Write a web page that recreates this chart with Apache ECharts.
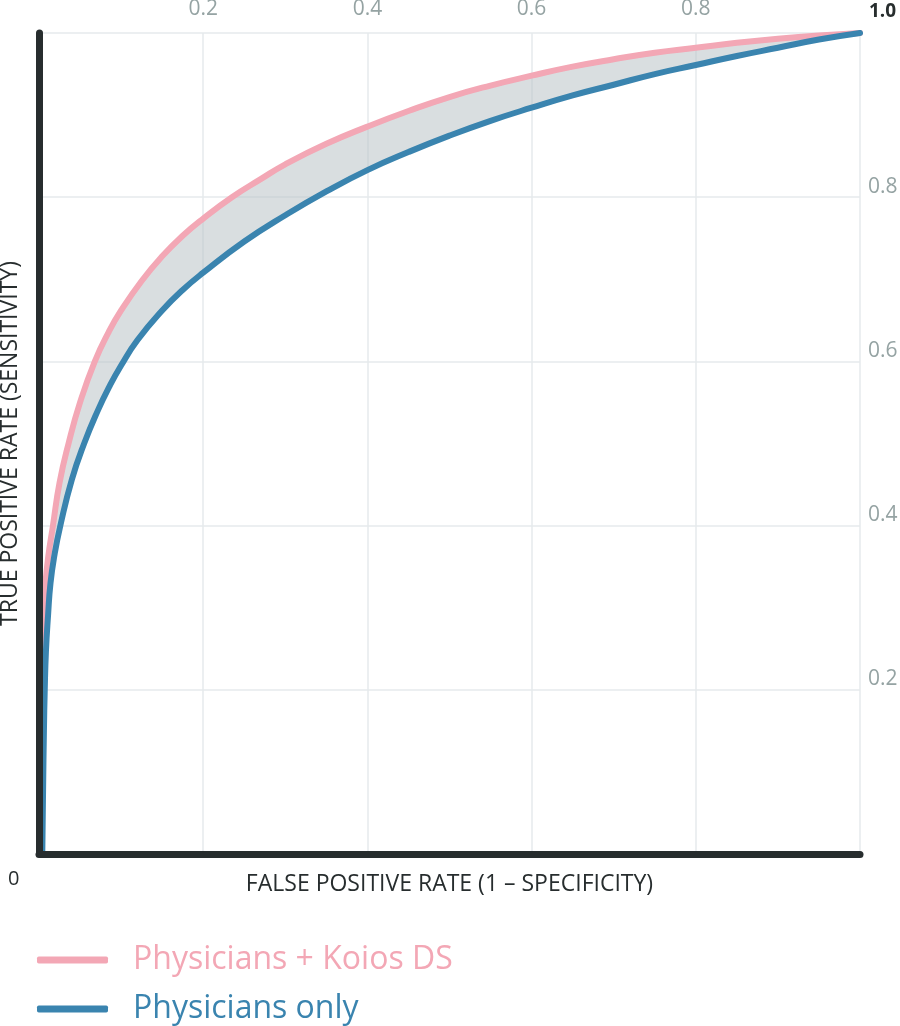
<!DOCTYPE html>
<html>
<head>
<meta charset="utf-8">
<title>ROC curve</title>
<script src="https://cdn.jsdelivr.net/npm/echarts@6/dist/echarts.min.js"></script>
<style>
  html, body { margin: 0; padding: 0; background: #fff; }
  #chart { width: 900px; height: 1026px; }
</style>
</head>
<body>
<div id="chart"></div>
<script>
// 数据：横轴 FPR，纵轴 TPR
const koiosFpr = [0, 0.002, 0.004, 0.007, 0.011, 0.017, 0.025, 0.036, 0.05, 0.068, 0.085, 0.1, 0.125, 0.15, 0.175, 0.2, 0.235, 0.27, 0.3, 0.35, 0.4, 0.45, 0.5, 0.55, 0.6, 0.65, 0.7, 0.75, 0.8, 0.85, 0.9, 0.95, 1]
const koiosTpr = [0, 0.22, 0.28, 0.32, 0.36, 0.40, 0.452, 0.50, 0.55, 0.60, 0.636, 0.662, 0.698, 0.728, 0.753, 0.774, 0.80, 0.822, 0.84, 0.865, 0.886, 0.905, 0.922, 0.936, 0.948, 0.959, 0.968, 0.976, 0.982, 0.988, 0.993, 0.997, 1]

const physFpr = [0.004, 0.005, 0.006, 0.007, 0.0085, 0.011, 0.014, 0.019, 0.026, 0.04, 0.055, 0.072, 0.085, 0.1, 0.12, 0.15, 0.175, 0.2, 0.25, 0.3, 0.35, 0.4, 0.45, 0.5, 0.55, 0.6, 0.65, 0.7, 0.75, 0.8, 0.85, 0.9, 0.95, 1]
const physTpr = [0, 0.08, 0.15, 0.2, 0.248, 0.29, 0.33, 0.365, 0.40, 0.456, 0.50, 0.541, 0.568, 0.595, 0.626, 0.662, 0.687, 0.708, 0.746, 0.778, 0.807, 0.833, 0.855, 0.875, 0.893, 0.909, 0.924, 0.937, 0.95, 0.961, 0.972, 0.982, 0.992, 1]

const tickValues = [0.2, 0.4, 0.6, 0.8]
const seriesNames = ['Physicians + Koios DS', 'Physicians only']

const pink = '#f3a7b5'
const blue = '#3a84af'
const dark = '#272d2e'
const tickGray = '#95a3a3'
const font = 'Open Sans'

const koiosData = koiosFpr.map((x, i) => [x, koiosTpr[i]])
const physData = physFpr.map((x, i) => [x, physTpr[i]])

const chart = echarts.init(document.getElementById('chart'))

const baseAxis = {
  type: 'value',
  min: 0,
  max: 1,
  interval: 0.2
}

const tickFormatter = v => (tickValues.some(t => Math.abs(t - v) < 1e-6) ? v.toFixed(1) : '')

const option = {
  animation: false,
  textStyle: { fontFamily: font },
  grid: { left: 39, right: 40, top: 33, bottom: 172, outerBoundsMode: 'none' },
  legend: {
    orient: 'vertical',
    left: 37,
    top: 943,
    padding: 0,
    icon: 'roundRect',
    itemWidth: 71,
    itemHeight: 7,
    itemGap: 15,
    selectedMode: false,
    textStyle: { fontSize: 32, lineHeight: 34, padding: [0, 0, 0, 20], fontFamily: font },
    data: [
      { name: seriesNames[0], textStyle: { color: pink } },
      { name: seriesNames[1], textStyle: { color: blue } }
    ]
  },
  xAxis: [
    // 底部：粗轴线 + 名称
    {
      ...baseAxis,
      position: 'bottom',
      z: 10,
      name: 'FALSE POSITIVE RATE (1 – SPECIFICITY)',
      nameLocation: 'middle',
      nameGap: 19,
      nameTextStyle: { color: dark, fontSize: 23, fontFamily: font, verticalAlign: 'top' },
      axisLine: { show: true, onZero: false, lineStyle: { color: dark, width: 7, cap: 'round' } },
      axisTick: { show: false },
      axisLabel: { show: false },
      splitLine: { show: false }
    },
    // 顶部：刻度文字 + 网格
    {
      ...baseAxis,
      position: 'top',
      axisLine: { show: false },
      axisTick: { show: false },
      axisLabel: {
        show: true,
        margin: 13,
        color: tickGray,
        fontSize: 21,
        fontFamily: font,
        formatter: tickFormatter
      },
      splitLine: { show: true, lineStyle: { color: '#e6eaed', width: 1.5 } }
    }
  ],
  yAxis: [
    {
      ...baseAxis,
      position: 'left',
      z: 10,
      name: 'TRUE POSITIVE RATE (SENSITIVITY)',
      nameLocation: 'middle',
      nameGap: 17,
      nameRotate: 90,
      nameTextStyle: { color: dark, fontSize: 23, fontFamily: font },
      axisLine: { show: true, onZero: false, lineStyle: { color: dark, width: 7, cap: 'round' } },
      axisTick: { show: false },
      axisLabel: { show: false },
      splitLine: { show: false }
    },
    {
      ...baseAxis,
      position: 'right',
      axisLine: { show: false },
      axisTick: { show: false },
      axisLabel: {
        show: true,
        margin: 8,
        verticalAlign: 'bottom',
        color: tickGray,
        fontSize: 21,
        fontFamily: font,
        formatter: tickFormatter
      },
      splitLine: { show: true, lineStyle: { color: '#e6eaed', width: 1.5 } }
    }
  ],
  series: [
    // 两条曲线之间的灰色带
    {
      type: 'custom',
      xAxisIndex: 0,
      yAxisIndex: 0,
      z: 1,
      silent: true,
      clip: true,
      data: [0],
      renderItem: (params, api) => {
        const pts = koiosData.map(p => api.coord(p))
          .concat(physData.slice().reverse().map(p => api.coord(p)))
        return {
          type: 'polygon',
          shape: { points: pts, smooth: 0.3 },
          style: { fill: 'rgba(186,194,199,0.55)' }
        }
      }
    },
    {
      name: seriesNames[0],
      type: 'line',
      xAxisIndex: 0,
      yAxisIndex: 0,
      z: 3,
      data: koiosData,
      smooth: 0.5,
      symbol: 'none',
      itemStyle: { color: pink },
      lineStyle: { color: pink, width: 6, cap: 'round' }
    },
    {
      name: seriesNames[1],
      type: 'line',
      xAxisIndex: 0,
      yAxisIndex: 0,
      z: 4,
      data: physData,
      smooth: 0.5,
      symbol: 'none',
      itemStyle: { color: blue },
      lineStyle: { color: blue, width: 6, cap: 'round' }
    }
  ]
}

chart.setOption(option)

// 角上的 0 和 1.0
const origin = chart.convertToPixel({ gridIndex: 0 }, [0, 0])
const corner = chart.convertToPixel({ gridIndex: 0 }, [1, 1])
chart.setOption({
  graphic: [
    {
      type: 'text',
      x: origin[0] - 31,
      y: origin[1] + 15,
      style: { text: '0', fill: dark, font: '20px "' + font + '"' }
    },
    {
      type: 'text',
      x: corner[0] + 9,
      y: corner[1] - 31,
      style: { text: '1.0', fill: dark, font: 'bold 19px "' + font + '"' }
    }
  ]
})
</script>
</body>
</html>
